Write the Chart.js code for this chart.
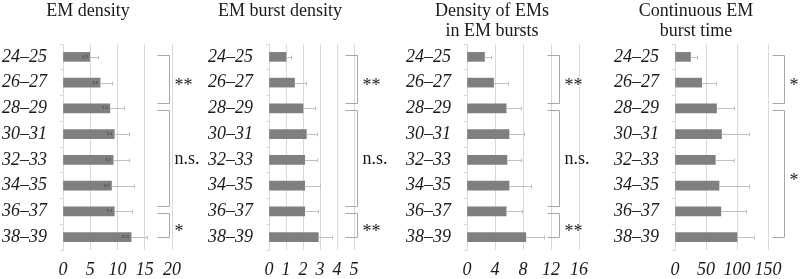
<!DOCTYPE html>
<html>
<head>
<meta charset="utf-8">
<script src="https://cdn.jsdelivr.net/npm/chart.js@4.4.1/dist/chart.umd.min.js"></script>
<style>
  body { margin: 0; background: #fff; width: 800px; height: 279px; overflow: hidden; position: relative;
         font-family: 'Liberation Serif', 'Times New Roman', serif; }
  .panel { position: absolute; top: 0; width: 200px; height: 279px; }
  .title { position: absolute; top: 0; width: 200px; text-align: center; font-size: 18px;
           line-height: 20px; color: #1a1a1a; }
</style>
</head>
<body>
<div class="panel" style="left:0"><canvas id="c1" width="200" height="279"></canvas></div>
<div class="panel" style="left:200px"><canvas id="c2" width="200" height="279"></canvas></div>
<div class="panel" style="left:400px"><canvas id="c3" width="200" height="279"></canvas></div>
<div class="panel" style="left:600px"><canvas id="c4" width="200" height="279"></canvas></div>

<div class="title" style="left:-12px">EM density</div>
<div class="title" style="left:180px">EM burst density</div>
<div class="title" style="left:392px">Density of EMs<br>in EM bursts</div>
<div class="title" style="left:596px">Continuous EM<br>burst time</div>

<script>
// age groups (weeks), top to bottom
const ageGroups = ['24–25', '26–27', '28–29', '30–31', '32–33', '34–35', '36–37', '38–39'];

// means and SDs
const emDensity = [4.9, 6.8, 8.6, 9.4, 9.2, 8.9, 9.4, 12.5];
const emDensitySd = [1.5, 2.2, 2.6, 2.8, 3.0, 4.1, 3.3, 2.9];
const burstDensity = [1.0, 1.5, 2.0, 2.2, 2.1, 2.1, 2.1, 2.9];
const burstDensitySd = [0.3, 0.7, 0.7, 0.6, 0.7, 0.9, 0.8, 0.8];
const emsInBursts = [2.5, 3.8, 5.6, 6.0, 5.7, 6.0, 5.6, 8.4];
const emsInBurstsSd = [0.9, 2.0, 2.1, 2.2, 2.0, 3.2, 2.2, 2.6];
const burstTime = [25, 43, 67, 75, 65, 71, 74, 100];
const burstTimeSd = [11, 23, 28, 45, 30, 48, 41, 28];

// x axis tick labels
const emDensityTicks = [0, 5, 10, 15, 20];
const burstDensityTicks = [0, 1, 2, 3, 4, 5];
const emsInBurstsTicks = [0, 4, 8, 12, 16];
const burstTimeTicks = [0, 50, 100, 150];

// significance brackets: [first row, last row, label]
const emDensitySig = [[0, 2, '**'], [2, 6, 'n.s.'], [6, 7, '*']];
const burstDensitySig = [[0, 2, '**'], [2, 6, 'n.s.'], [6, 7, '**']];
const emsInBurstsSig = [[0, 2, '**'], [2, 6, 'n.s.'], [6, 7, '**']];
const burstTimeSig = [[0, 2, '*'], [2, 7, '*']];

const serif = "'Liberation Serif', 'Times New Roman', serif";
const axisFont = { family: serif, size: 18, style: 'italic' };
const textColor = '#1a1a1a';

// SD whiskers drawn to the right of each bar
const errorBars = {
    id: 'errorBars',
    afterDatasetsDraw(chart, args, opts) {
        const ctx = chart.ctx;
        const xs = chart.scales.x;
        const values = chart.data.datasets[0].data;
        ctx.save();
        chart.getDatasetMeta(0).data.forEach((bar, i) => {
            const y = Math.round(bar.y) + 0.5;
            const x1 = Math.round(xs.getPixelForValue(values[i] + opts.sd[i])) + 0.5;
            ctx.strokeStyle = '#bfbfbf';
            ctx.lineWidth = 1;
            ctx.beginPath();
            ctx.moveTo(bar.x, y);
            ctx.lineTo(x1, y);
            ctx.moveTo(x1, y - 2);
            ctx.lineTo(x1, y + 2);
            ctx.stroke();
            if (opts.showValues) {
                ctx.fillStyle = '#3a3a3a';
                ctx.font = '4px sans-serif';
                ctx.textAlign = 'right';
                ctx.textBaseline = 'middle';
                ctx.fillText(values[i].toFixed(1), bar.x - 2, bar.y);
            }
        });
        ctx.restore();
    }
};

// brackets with significance marks on the right side
const brackets = {
    id: 'brackets',
    afterDraw(chart, args, opts) {
        const ctx = chart.ctx;
        const xs = chart.scales.x;
        const ys = chart.scales.y;
        const vx = Math.round(xs.getPixelForValue(opts.at)) + 0.5;
        const n = opts.groups.length;
        ctx.save();
        ctx.lineWidth = 1;
        ctx.strokeStyle = '#a6a6a6';
        ctx.fillStyle = textColor;
        ctx.font = '18px ' + serif;
        ctx.textAlign = 'left';
        ctx.textBaseline = 'middle';
        opts.groups.forEach(([from, to, label], k) => {
            const top = Math.round(ys.getPixelForValue(k > 0 ? from + 0.07 : from - 0.08)) + 0.5;
            const bottom = Math.round(ys.getPixelForValue(k < n - 1 ? to - 0.22 : to)) + 0.5;
            ctx.beginPath();
            ctx.moveTo(vx - 12, top);
            ctx.lineTo(vx, top);
            ctx.lineTo(vx, bottom);
            ctx.lineTo(vx - 12, bottom);
            ctx.stroke();
            const mid = (top + bottom) / 2 + (label === 'n.s.' ? 1 : 7);
            ctx.fillText(label, vx + 5, mid);
        });
        ctx.restore();
    }
};

function makePanel(id, values, sd, ticks, sig, look) {
    return new Chart(document.getElementById(id), {
        type: 'bar',
        data: {
            labels: ageGroups,
            datasets: [{ data: values, backgroundColor: '#7f7f7f', barThickness: 9 }]
        },
        options: {
            indexAxis: 'y',
            responsive: false,
            animation: false,
            layout: { padding: { top: 44, right: look.right, left: 0, bottom: 0 } },
            scales: {
                x: {
                    min: ticks[0],
                    max: ticks[ticks.length - 1],
                    ticks: { stepSize: ticks[1] - ticks[0], font: axisFont, color: textColor,
                             padding: 9, autoSkip: false, maxRotation: 0 },
                    grid: { color: '#d9d9d9', drawTicks: false },
                    border: { display: false },
                    afterFit: (s) => { s.height = 29; }
                },
                y: {
                    ticks: { font: axisFont, color: textColor, padding: 13, autoSkip: false },
                    grid: { drawOnChartArea: false, tickLength: 3, color: '#d9d9d9' },
                    border: { color: '#d9d9d9' },
                    afterFit: (s) => { s.width = look.left; }
                }
            },
            plugins: {
                legend: { display: false },
                tooltip: { enabled: false },
                errorBars: { sd: sd, showValues: look.showValues },
                brackets: { groups: sig, at: look.bracketAt }
            }
        },
        plugins: [errorBars, brackets]
    });
}

makePanel('c1', emDensity, emDensitySd, emDensityTicks, emDensitySig,
    { left: 63, right: 28, bracketAt: 19.5, showValues: true });
makePanel('c2', burstDensity, burstDensitySd, burstDensityTicks, burstDensitySig,
    { left: 69, right: 46, bracketAt: 5.15, showValues: false });
makePanel('c3', emsInBursts, emsInBurstsSd, emsInBurstsTicks, emsInBurstsSig,
    { left: 67, right: 21, bracketAt: 13.2, showValues: false });
makePanel('c4', burstTime, burstTimeSd, burstTimeTicks, burstTimeSig,
    { left: 75, right: 32, bracketAt: 175, showValues: false });
</script>
</body>
</html>
